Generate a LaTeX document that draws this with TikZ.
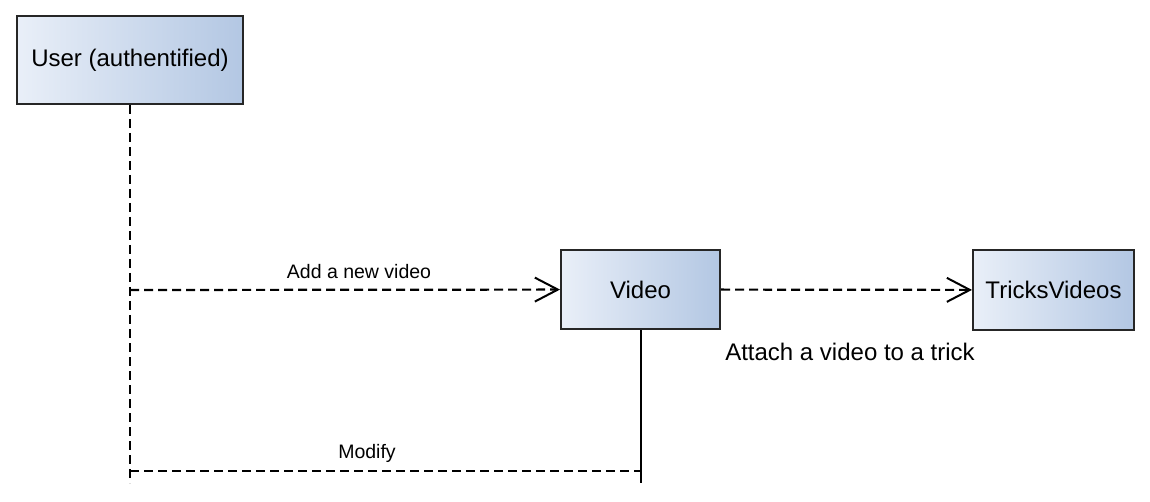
\documentclass[tikz,border=0pt]{standalone}
\usepackage{fontspec}
\setmainfont{Liberation Sans}
\usetikzlibrary{arrows.meta}
\definecolor{boxlight}{HTML}{E9EFF8}
\definecolor{boxdark}{HTML}{B3C7E3}
\begin{document}
\begin{tikzpicture}[x=1pt,y=-1pt,
    classbox/.style={draw=black!85,line width=2pt,left color=boxlight,right color=boxdark,
      inner sep=0pt,font=\fontsize{24}{27}\selectfont},
    msg/.style={line width=2.2pt,dash pattern=on 9pt off 5pt},
    msgarrow/.style={msg,-{Straight Barb[length=23pt,width=24pt,line width=2pt]}},
    lbl/.style={inner sep=0pt,font=\fontsize{19.5}{22}\selectfont},
    biglbl/.style={inner sep=0pt,font=\fontsize{24}{27}\selectfont}]
  \useasboundingbox (0,0) rectangle (1150,502);
  \node[classbox,minimum width=226pt,minimum height=88pt] (user) at (130,60) {User (authentified)};
  \node[classbox,minimum width=159pt,minimum height=79pt] (video) at (640.5,289.5) {Video};
  \node[classbox,minimum width=161pt,minimum height=80pt] (tricks) at (1053.5,290) {TricksVideos};
  \coordinate (userend) at (130,483);
  \coordinate (videoend) at (640.5,483);
  \coordinate (addstart) at (130,290);
  \coordinate (modstart) at (130,471);
  \coordinate (modend) at (640.5,471);
  \node[lbl] (addlbl) at (359,272) {Add a new video};
  \node[biglbl] (attachlbl) at (850,352) {Attach a video to a trick};
  \node[lbl] (modlbl) at (367,453) {Modify};
  \begin{scope}
    \draw[msg] (user) -- (userend);
    \draw[line width=2pt] (video) -- (videoend);
    \draw[msgarrow] (addstart) -- (video);
    \draw[msgarrow] (video) -- (tricks);
    \draw[msg] (modstart) -- (modend);
  \end{scope}
\end{tikzpicture}
\end{document}
